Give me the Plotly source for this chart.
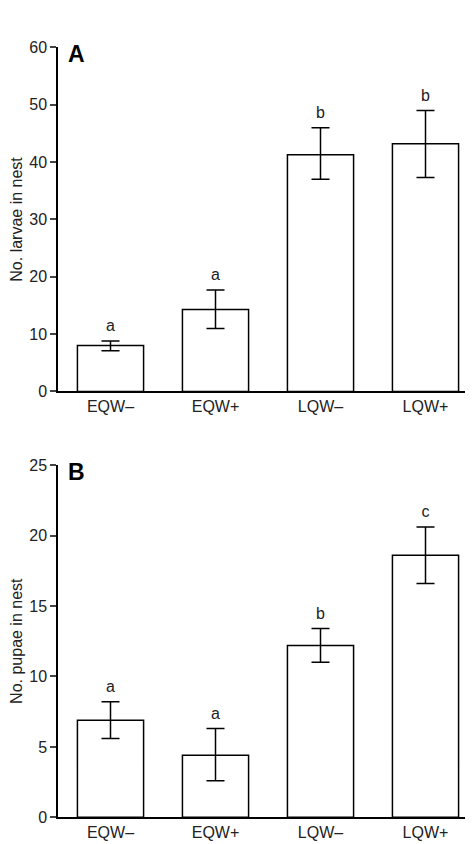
import plotly.graph_objects as go
from plotly.subplots import make_subplots

groups = ["EQW–", "EQW+", "LQW–", "LQW+"]

larvae = [8.0, 14.3, 41.3, 43.2]
larvae_lo = [7.1, 11.0, 37.0, 37.3]
larvae_hi = [8.8, 17.7, 46.0, 49.0]
larvae_letters = ["a", "a", "b", "b"]

pupae = [6.9, 4.4, 12.2, 18.6]
pupae_lo = [5.6, 2.6, 11.0, 16.6]
pupae_hi = [8.2, 6.3, 13.4, 20.6]
pupae_letters = ["a", "a", "b", "c"]

fig = make_subplots(rows=2, cols=1)

panels = [
    (1, larvae, larvae_lo, larvae_hi, larvae_letters, [0, 60], 10, "No. larvae in nest", 1.0),
    (2, pupae, pupae_lo, pupae_hi, pupae_letters, [0, 25], 5, "No. pupae in nest", 0.4),
]

for row, vals, lo, hi, letters, rng, dt, title, off in panels:
    fig.add_trace(go.Bar(
        x=groups, y=vals, width=0.63,
        marker=dict(color="white", line=dict(color="black", width=1.5)),
        error_y=dict(type="data", symmetric=False,
                     array=[h - v for h, v in zip(hi, vals)],
                     arrayminus=[v - l for v, l in zip(vals, lo)],
                     color="black", thickness=1.5, width=9),
        showlegend=False), row=row, col=1)
    fig.add_trace(go.Scatter(
        x=groups, y=[h + off for h in hi], text=letters, mode="text",
        textposition="top center", textfont=dict(size=16, color="#222"),
        showlegend=False, cliponaxis=False), row=row, col=1)
    fig.update_yaxes(range=rng, dtick=dt, showline=True, linecolor="black", linewidth=1.5,
                     ticks="outside", ticklen=6, tickwidth=1.5, showgrid=False, zeroline=False,
                     title=dict(text=title, font=dict(size=16), standoff=8),
                     tickfont=dict(size=16), row=row, col=1)
    fig.update_xaxes(showline=True, linecolor="black", linewidth=1.5, showgrid=False,
                     tickfont=dict(size=16), ticklen=0, range=[-0.5, 3.5], row=row, col=1)

fig.update_layout(
    xaxis=dict(domain=[0, 1], anchor="y"), yaxis=dict(domain=[0.546, 0.962]),
    xaxis2=dict(domain=[0, 1], anchor="y2"), yaxis2=dict(domain=[0.031, 0.457]),
    width=473, height=844, margin=dict(l=50, r=3, t=0, b=0),
    plot_bgcolor="white", paper_bgcolor="white",
    font=dict(family="Liberation Sans, Arial", color="#222"),
)
fig.add_annotation(text="<b>A</b>", x=0.02, y=0.972, xref="paper", yref="paper",
                   xanchor="left", yanchor="top", showarrow=False, font=dict(size=23, color="black"))
fig.add_annotation(text="<b>B</b>", x=0.02, y=0.467, xref="paper", yref="paper",
                   xanchor="left", yanchor="top", showarrow=False, font=dict(size=23, color="black"))

fig.write_html("out.html")
